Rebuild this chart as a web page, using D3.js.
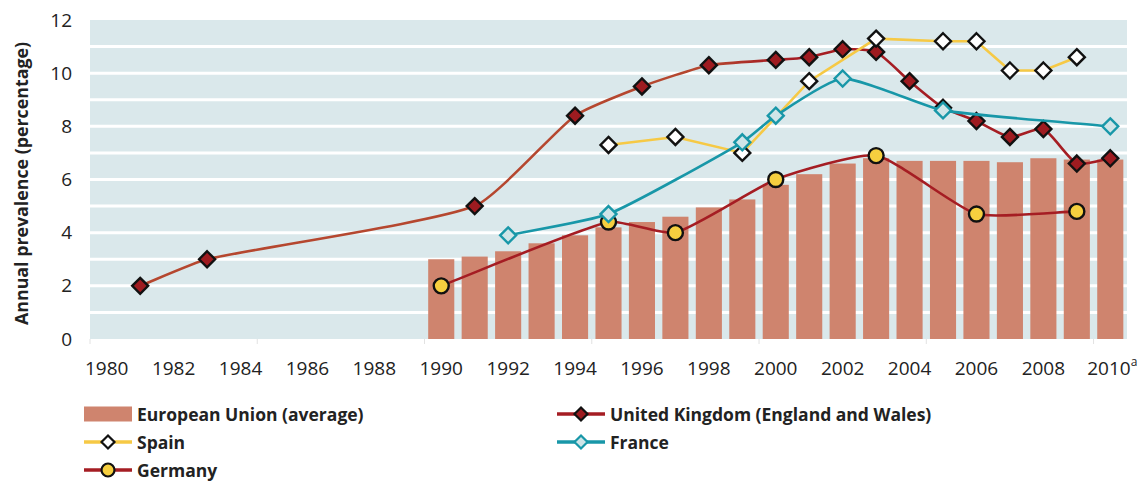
<!DOCTYPE html>
<html>
<head>
<meta charset="utf-8">
<script src="https://cdn.jsdelivr.net/npm/d3@7"></script>
<style>
  body { margin: 0; background: #fff; }
  text { font-family: "Open Sans", "DejaVu Sans", sans-serif; fill: #222; }
</style>
</head>
<body>
<svg id="chart" width="1141" height="482"></svg>
<script>
// data
const years = d3.range(1980, 2011);
const euYears = d3.range(1990, 2011);
const euValues = [3.0, 3.1, 3.3, 3.6, 3.9, 4.2, 4.4, 4.6, 4.95, 5.25, 5.8, 6.2, 6.6, 6.8, 6.7, 6.7, 6.7, 6.65, 6.8, 6.75, 6.75];

const ukYears = [1981, 1983, 1991, 1994, 1996, 1998, 2000, 2001, 2002, 2003, 2004, 2005, 2006, 2007, 2008, 2009, 2010];
const ukValues = [2.0, 3.0, 5.0, 8.4, 9.5, 10.3, 10.5, 10.6, 10.9, 10.8, 9.7, 8.7, 8.2, 7.6, 7.9, 6.6, 6.8];

const spainYears = [1995, 1997, 1999, 2001, 2003, 2005, 2006, 2007, 2008, 2009];
const spainValues = [7.3, 7.6, 7.0, 9.7, 11.3, 11.2, 11.2, 10.1, 10.1, 10.6];

const franceYears = [1992, 1995, 1999, 2000, 2002, 2005, 2010];
const franceValues = [3.9, 4.7, 7.4, 8.4, 9.8, 8.6, 8.0];

const germanyYears = [1990, 1995, 1997, 2000, 2003, 2006, 2009];
const germanyValues = [2.0, 4.4, 4.0, 6.0, 6.9, 4.7, 4.8];

const yTicks = [0, 2, 4, 6, 8, 10, 12];
const xTickYears = d3.range(1980, 2011, 2);

const colours = {
  eu: '#cf846e',
  ukEarly: '#b5472f',
  uk: '#a51d23',
  ukMarker: '#9e1b20',
  spain: '#f6c945',
  france: '#1897a8',
  franceFill: '#cfe5e8',
  germany: '#a51d23',
  germanyFill: '#f6cf3f'
};

const svg = d3.select('#chart');
const margin = { top: 20, right: 14, bottom: 143, left: 90 };
const width = 1141, height = 482;

const x = d3.scaleBand()
  .domain(years)
  .range([margin.left, width - margin.right])
  .paddingInner(0.22)
  .paddingOuter(0.11);
const cx = yr => x(yr) + x.bandwidth() / 2;

const y = d3.scaleLinear()
  .domain([0, 12])
  .range([height - margin.bottom, margin.top]);

// plot background + white gridlines
svg.append('rect')
  .attr('x', margin.left).attr('y', margin.top)
  .attr('width', width - margin.right - margin.left)
  .attr('height', y(0) - margin.top)
  .attr('fill', '#dae8eb');

svg.append('g')
  .selectAll('line')
  .data(d3.range(1, 12))
  .join('line')
  .attr('x1', margin.left).attr('x2', width - margin.right)
  .attr('y1', d => y(d)).attr('y2', d => y(d))
  .attr('stroke', '#fff').attr('stroke-width', 3);

// small ticks every 5 years on the baseline
const step = x.step();
svg.append('g')
  .selectAll('line')
  .data(d3.range(1980, 2011, 5))
  .join('line')
  .attr('x1', d => cx(d) - step / 2).attr('x2', d => cx(d) - step / 2)
  .attr('y1', y(0)).attr('y2', y(0) + 5)
  .attr('stroke', '#e2e2e2').attr('stroke-width', 1);

// EU bars
svg.append('g')
  .selectAll('rect')
  .data(euYears.map((yr, i) => ({ yr, v: euValues[i] })))
  .join('rect')
  .attr('x', d => x(d.yr))
  .attr('width', x.bandwidth())
  .attr('y', d => y(d.v))
  .attr('height', d => y(0) - y(d.v))
  .attr('fill', colours.eu);

// y axis
const yAxis = svg.append('g')
  .attr('transform', `translate(${margin.left - 18},0)`)
  .call(d3.axisLeft(y).tickValues(yTicks).tickSize(0).tickPadding(0));
yAxis.select('.domain').remove();
yAxis.selectAll('text').attr('font-size', 19).attr('fill', '#222');

// x axis
const xAxis = svg.append('g')
  .attr('transform', `translate(0,${y(0) + 22})`)
  .call(d3.axisBottom(x).tickValues(xTickYears).tickSize(0).tickPadding(0));
xAxis.select('.domain').remove();
xAxis.selectAll('text').attr('font-size', 19).attr('fill', '#222').attr('dy', '0.71em');
xAxis.selectAll('.tick').filter(d => d === 2010).select('text')
  .text('2010')
  .append('tspan').attr('font-size', 12).attr('dy', '-0.75em').text('a');
xAxis.selectAll('.tick').filter(d => d === 2010).select('text')
  .attr('text-anchor', 'start').attr('x', -x.bandwidth() + 3);

// y axis title
svg.append('text')
  .attr('transform', `translate(28,${(margin.top + y(0)) / 2 + 4}) rotate(-90)`)
  .attr('text-anchor', 'middle')
  .attr('font-size', 17.8).attr('font-weight', 'bold').attr('fill', '#111')
  .text('Annual prevalence (percentage)');

// gradient for the UK line (lighter brown in the early years)
const grad = svg.append('defs').append('linearGradient')
  .attr('id', 'ukGrad').attr('gradientUnits', 'userSpaceOnUse')
  .attr('x1', cx(1980)).attr('x2', cx(2010)).attr('y1', 0).attr('y2', 0);
const split = (cx(1999) - cx(1980)) / (cx(2010) - cx(1980));
grad.append('stop').attr('offset', 0).attr('stop-color', colours.ukEarly);
grad.append('stop').attr('offset', split - 0.03).attr('stop-color', colours.ukEarly);
grad.append('stop').attr('offset', split + 0.03).attr('stop-color', colours.uk);
grad.append('stop').attr('offset', 1).attr('stop-color', colours.uk);

const toPts = (ys, vs) => ys.map((yr, i) => ({ yr, v: vs[i] }));

// spreadsheet-style smoothing: tangent from neighbours, handle length tied to the segment
function smooth(pts) {
  const p = pts.map(d => [cx(d.yr), y(d.v)]);
  const n = p.length;
  const tan = p.map((pt, i) => {
    const a = p[Math.max(0, i - 1)], b = p[Math.min(n - 1, i + 1)];
    const dx = b[0] - a[0], dy = b[1] - a[1], l = Math.hypot(dx, dy) || 1;
    return [dx / l, dy / l];
  });
  const path = d3.path();
  path.moveTo(p[0][0], p[0][1]);
  for (let i = 0; i < n - 1; i++) {
    const d = Math.hypot(p[i + 1][0] - p[i][0], p[i + 1][1] - p[i][1]) * 0.17;
    path.bezierCurveTo(
      p[i][0] + tan[i][0] * d, p[i][1] + tan[i][1] * d,
      p[i + 1][0] - tan[i + 1][0] * d, p[i + 1][1] - tan[i + 1][1] * d,
      p[i + 1][0], p[i + 1][1]);
  }
  return path.toString();
}
const straight = d3.line().x(d => cx(d.yr)).y(d => y(d.v));
const diamond = r => `M0,${-r}L${r},0L0,${r}L${-r},0Z`;

function drawSeries(pts, gen, stroke, marker) {
  const g = svg.append('g');
  g.append('path').datum(pts)
    .attr('d', gen).attr('fill', 'none')
    .attr('stroke', stroke).attr('stroke-width', 2.6);
  const m = g.selectAll('.m').data(pts).join(marker.shape === 'circle' ? 'circle' : 'path')
    .attr('fill', marker.fill).attr('stroke', marker.stroke).attr('stroke-width', 2.4);
  if (marker.shape === 'circle') {
    m.attr('cx', d => cx(d.yr)).attr('cy', d => y(d.v)).attr('r', 7.5);
  } else {
    m.attr('d', diamond(8)).attr('transform', d => `translate(${cx(d.yr)},${y(d.v)})`);
  }
}

drawSeries(toPts(germanyYears, germanyValues), smooth, colours.germany,
  { shape: 'circle', fill: colours.germanyFill, stroke: '#111' });
drawSeries(toPts(ukYears, ukValues), smooth, 'url(#ukGrad)',
  { shape: 'diamond', fill: colours.ukMarker, stroke: '#111' });
drawSeries(toPts(spainYears, spainValues), straight, colours.spain,
  { shape: 'diamond', fill: '#fff', stroke: '#111' });
drawSeries(toPts(franceYears, franceValues), smooth, colours.france,
  { shape: 'diamond', fill: colours.franceFill, stroke: colours.france });

// legend
const legendItems = [
  { label: 'European Union (average)', type: 'bar', col: 0, row: 0 },
  { label: 'United Kingdom (England and Wales)', type: 'line', stroke: colours.uk, shape: 'diamond', fill: colours.ukMarker, mstroke: '#111', col: 1, row: 0 },
  { label: 'Spain', type: 'line', stroke: colours.spain, shape: 'diamond', fill: '#fff', mstroke: '#111', col: 0, row: 1 },
  { label: 'France', type: 'line', stroke: colours.france, shape: 'diamond', fill: colours.franceFill, mstroke: colours.france, col: 1, row: 1 },
  { label: 'Germany', type: 'line', stroke: colours.germany, shape: 'circle', fill: colours.germanyFill, mstroke: '#111', col: 0, row: 2 }
];
const colX = [84, 557];
const rowY = [414, 442, 470];

const lg = svg.append('g').selectAll('g').data(legendItems).join('g')
  .attr('transform', d => `translate(${colX[d.col]},${rowY[d.row]})`);
lg.filter(d => d.type === 'bar').append('rect')
  .attr('x', 0).attr('y', -7.5).attr('width', 48).attr('height', 15).attr('fill', colours.eu);
const ll = lg.filter(d => d.type === 'line');
ll.append('line').attr('x1', 0).attr('x2', 48).attr('y1', 0).attr('y2', 0)
  .attr('stroke', d => d.stroke).attr('stroke-width', 3.5);
ll.filter(d => d.shape === 'diamond').append('path')
  .attr('d', diamond(6.5)).attr('transform', 'translate(24,0)')
  .attr('fill', d => d.fill).attr('stroke', d => d.mstroke).attr('stroke-width', 2.2);
ll.filter(d => d.shape === 'circle').append('circle')
  .attr('cx', 24).attr('r', 6.5)
  .attr('fill', d => d.fill).attr('stroke', d => d.mstroke).attr('stroke-width', 2.2);
lg.append('text')
  .attr('x', 53).attr('y', 6.5)
  .attr('font-size', 17.5).attr('font-weight', 'bold').attr('fill', '#111')
  .text(d => d.label);
</script>
</body>
</html>
